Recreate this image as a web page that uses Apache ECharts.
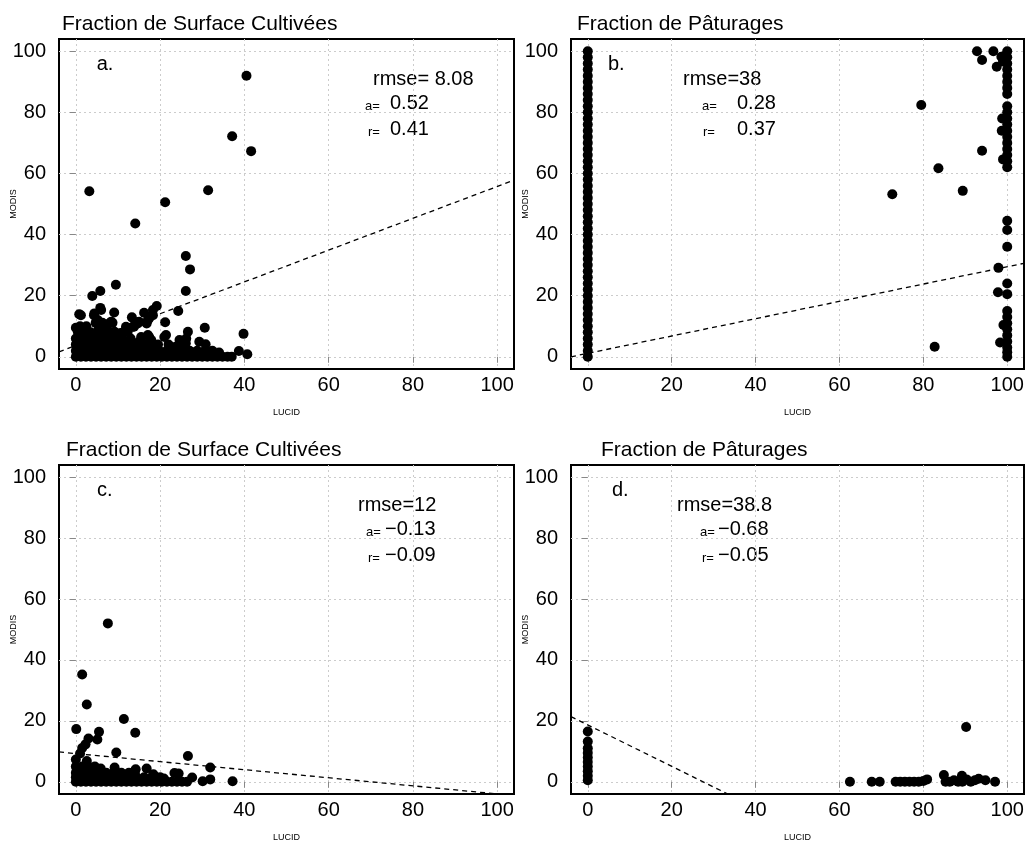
<!DOCTYPE html>
<html>
<head>
<meta charset="utf-8">
<script src="https://cdn.jsdelivr.net/npm/echarts@6/dist/echarts.min.js"></script>
<style>html,body{margin:0;padding:0;background:#fff}#c{width:1027px;height:843px}</style>
</head>
<body>
<div id="c"></div>
<script>
// ---------- data ----------
const tickValues = [0, 20, 40, 60, 80, 100];
const panelTitles = ['Fraction de Surface Cultivées', 'Fraction de Pâturages', 'Fraction de Surface Cultivées', 'Fraction de Pâturages'];
const panelLetters = ['a.', 'b.', 'c.', 'd.'];
const rmseTexts = ['rmse= 8.08', 'rmse=38', 'rmse=12', 'rmse=38.8'];
const slopeTexts = ['0.52', '0.28', '\u22120.13', '\u22120.68'];
const corrTexts = ['0.41', '0.37', '\u22120.09', '\u22120.05'];

// panel a: cultivated, period 1
const pointsA = [
  [40.5,92],[37.1,72.2],[41.6,67.3],[3.2,54.2],[31.4,54.5],[21.2,50.6],[14.1,43.6],[26.1,33],[27.1,28.6],[26.1,21.5],
  [9.5,23.6],[3.9,19.9],[5.8,21.5],[19.2,16.6],[24.3,15],[0.8,13.9],[1.2,13.6],[5.8,16],[9.1,14.5],[13.3,12.9],
  [16.2,14.4],[18.3,15.3],[21.2,11.3],[30.6,9.5],[26.6,8.2],[39.8,7.5],[0,9.5],[8.7,11.1],[4.3,13.6],[4.7,11.1],
  [6.3,11.1],[7.9,10.9],[17.4,12.6],[16.8,10.9],[15,11.5],[13.8,9.8],[11.9,9.8],[10.7,7.7],[9.5,6],[21.4,7.1],
  [29.3,4.9],[30.8,4.1],[38.7,1.9],[40.7,0.8],[34,1.4],[15,4.9],[17.4,6.5],[23.7,3.3],[26.1,4.4],
  [4.4,14.2],[5.2,12],[6,15.3],[6.8,10.4],[8.4,11.5],[9.2,8.2],[10.7,6.5],[12.3,8.2],[13.5,9.8],[14.7,10.9],
  [17.1,12],[18.3,13.6],[15.5,6.5],[17.1,7.1],[17.9,5.5],[21,6.5],[24.6,5.5],[26.2,6],
  [0,0],[1.2,0],[2.4,0],[3.6,0],[4.8,0],[6,0],[7.2,0],[8.4,0],[9.6,0],[10.8,0],[12,0],[13.2,0],[14.4,0],[15.6,0],
  [16.8,0],[18,0],[19.2,0],[20.4,0],[21.6,0],[22.8,0],[24,0],[25.2,0],[26.4,0],[27.6,0],[28.8,0],[30,0],[31.2,0],
  [32.4,0],[33.6,0],[34.8,0],[36,0],[37,0],
  [0,2],[1.8,2],[3.6,2],[5.4,2],[7.2,2],[9,2],[10.8,2],[12.6,2],[14.4,2],[16.2,2],[18,2],[19.8,2],[21.6,2],
  [23.4,2],[25.2,2],[27,2],[28.8,2],[30.6,2],[32.4,2],
  [0,4],[1.5,4],[3,4],[4.5,4],[6,4],[7.5,4],[9,4],[10.5,4],[12,4],[13.5,4],[15,4],[16.5,4],[18,4],[19.5,4],[22,4],[25,4],
  [0,6],[1.5,6],[3,6],[4.5,6],[6,6],[7.5,6],[9,6],[11,6],[13,6],
  [0.5,8],[2,8],[3.5,8],[5,8],[6.5,8],[8,8],[1,10],[2.5,10],[5.5,9.5]
];
const lineA = [[-4,1.6],[104,57.8]];

// panel b: pasture, period 1
const pointsB = [
  [0,0],[0,2],[0,4],[0,6],[0,8],[0,10],[0,12],[0,14],[0,16],[0,18],[0,20],[0,22],[0,24],[0,26],[0,28],[0,30],
  [0,32],[0,34],[0,36],[0,38],[0,40],[0,42],[0,44],[0,46],[0,48],[0,50],[0,52],[0,54],[0,56],[0,58],[0,60],
  [0,62],[0,64],[0,66],[0,68],[0,70],[0,72],[0,74],[0,76],[0,78],[0,80],[0,82],[0,84],[0,86],[0,88],[0,90],
  [0,92],[0,94],[0,96],[0,98],[0,100],
  [100,100],[100,98],[100,96],[100,94],[100,92],[100,90],[100,88],[100,86],
  [100,82],[100,80],[100,78],[100,76],[100,74],[100,72],[100,70],[100,68],[100,66],[100,64],[100,62],
  [100,44.5],[100,41.5],[100,36],[100,24],[100,20.5],[100,15],[100,13],[100,11],[100,9],[100,7],[100,5],
  [100,3],[100,1.5],[100,0],
  [92.8,100],[94,97.1],[96.7,100],[97.5,94.9],[98.6,98.2],[99,96.6],[79.5,82.4],[94,67.4],[83.6,61.7],
  [72.6,53.2],[89.4,54.3],[97.9,29.1],[97.8,21.1],[82.7,3.3],[98.3,4.7],[99.1,10.4],[99,64.6],[98.8,78],[98.7,74]
];
const lineB = [[-4,0],[104,30.6]];

// panel c: cultivated, period 2
const pointsC = [
  [7.6,52],[1.5,35.2],[2.6,25.4],[11.4,20.6],[0.1,17.3],[14.1,16.1],[5.5,16.4],[5.1,13.9],[3,14.2],[2.3,12.3],
  [1.5,11.1],[1,9.3],[9.6,9.6],[26.6,8.5],[0,7.3],[2.6,6.8],[31.9,4.7],[27.6,1.4],[37.2,0.2],[30.1,0.2],
  [31.9,0.8],[9.2,4.7],[5.9,4.4],[14.2,4.1],[16.8,4.4],[18.4,2.5],[23.4,2.9],[24.4,2.7],[20.9,1.1],
  [0,0],[1.2,0],[2.4,0],[3.6,0],[4.8,0],[6,0],[7.2,0],[8.4,0],[9.6,0],[10.8,0],[12,0],[13.2,0],[14.4,0],
  [15.6,0],[16.8,0],[18,0],[19.2,0],[20.4,0],[21.6,0],[22.8,0],[24,0],[25.2,0],[26.4,0],
  [0,1.5],[1.8,1.5],[3.6,1.5],[5.4,1.5],[7.2,1.5],[9,1.5],[10.8,1.5],[12.6,1.5],[14.4,1.5],[16.2,1.5],[18,1.5],[20,1.5],
  [0,3],[1.8,3],[3.6,3],[5.4,3],[7.2,3],[9,3],[10.8,3],[12.6,3],[14,3],
  [0,5],[1.5,5],[3,5],[4.5,5]
];
const lineC = [[-4,9.8],[104,-4.5]];

// panel d: pasture, period 2
const pointsD = [
  [0,16.5],[0,13.2],[0,11],[0,9.5],[0,8],[0,6.5],[0,5],[0,3.5],[0,2],[0,0.5],
  [62.5,0],[67.7,0],[69.6,0],[73.4,0],[74.5,0],[75.6,0],[76.7,0],[77.8,0],[78.9,0],[80,0.3],[80.9,0.8],
  [84.9,2.2],[85.3,0],[86.3,0],[87.3,0.5],[88.3,0],[89.2,2],[89.3,0],[90.3,0.8],[91.3,0],[92.3,0.5],
  [93.2,1],[94.8,0.5],[97.1,0],[90.2,18]
];
const lineD = [[-4,21.4],[104,-52]];

const allPoints = [pointsA, pointsB, pointsC, pointsD];
const allLines = [lineA, lineB, lineC, lineD];

// ---------- layout ----------
const FONT = 'Liberation Sans, Arial, Helvetica, sans-serif';
const grids = [
  {left: 59, top: 39, width: 455, height: 330},
  {left: 571, top: 39, width: 453, height: 330},
  {left: 59, top: 465, width: 455, height: 329},
  {left: 571, top: 465, width: 453, height: 329}
];
const textPos = [
  {title:[62,24.5], letter:[96.7,64.7], rmse:[373,79.7], aL:[365,106.2], aV:[390,103.7], rL:[368,132.2], rV:[390,129.7]},
  {title:[577,24.5], letter:[608,64.7], rmse:[683,79.7], aL:[702,106.2], aV:[737,103.7], rL:[703,132.2], rV:[737,129.7]},
  {title:[66,450.5], letter:[97,490.7], rmse:[358,505.7], aL:[366,532.2], aV:[385,529.7], rL:[368,558.2], rV:[385,555.7]},
  {title:[601,450.5], letter:[612,490.7], rmse:[677,505.7], aL:[700,532.2], aV:[718,529.7], rL:[702,558.2], rV:[718,555.7]}
];

const chart = echarts.init(document.getElementById('c'), null, {renderer: 'canvas'});

const option = {
  animation: false,
  backgroundColor: '#fff',
  grid: grids.map(g => Object.assign({show: true, borderColor: '#000', borderWidth: 2, backgroundColor: 'transparent', containLabel: false}, g)),
  xAxis: grids.map((g, i) => ({
    type: 'value', gridIndex: i, min: -4, max: 104,
    name: 'LUCID', nameLocation: 'middle', nameGap: 39, nameMoveOverlap: false,
    nameTextStyle: {fontSize: 9, color: '#000', fontFamily: FONT},
    axisLine: {show: false},
    axisTick: {show: true, customValues: tickValues, length: 6, lineStyle: {color: '#888', width: 1}},
    axisLabel: {show: true, customValues: tickValues, fontSize: 20, color: '#000', fontFamily: FONT, margin: 6},
    splitLine: {show: true, lineStyle: {color: '#cccccc', width: 1, type: [2, 3]}}
  })),
  yAxis: grids.map((g, i) => ({
    type: 'value', gridIndex: i, min: -4, max: 104,
    name: 'MODIS', nameLocation: 'middle', nameGap: 41, nameMoveOverlap: false,
    nameTextStyle: {fontSize: 9, color: '#000', fontFamily: FONT},
    axisLine: {show: false},
    axisTick: {show: true, customValues: tickValues, length: 6, lineStyle: {color: '#888', width: 1}},
    axisLabel: {show: true, customValues: tickValues, fontSize: 20, color: '#000', fontFamily: FONT, margin: 13},
    splitLine: {show: true, lineStyle: {color: '#cccccc', width: 1, type: [2, 3]}}
  })),
  series: [].concat(
    allLines.map((d, i) => ({
      type: 'line', xAxisIndex: i, yAxisIndex: i, data: d, symbol: 'none', clip: true, z: 3,
      lineStyle: {color: '#000', width: 1.3, type: [5, 4]}
    })),
    allPoints.map((d, i) => ({
      type: 'scatter', xAxisIndex: i, yAxisIndex: i, data: d, symbol: 'circle', symbolSize: 10, z: 2,
      itemStyle: {color: '#000', opacity: 1}
    }))
  ),
  graphic: [].concat(...textPos.map((p, i) => {
    const t = (pos, text, size) => ({
      type: 'text', x: pos[0], y: pos[1], silent: true,
      style: {text: text, fontSize: size, fontFamily: FONT, fill: '#000', textAlign: 'left', textVerticalAlign: 'middle'}
    });
    return [
      t(p.title, panelTitles[i], 21),
      t(p.letter, panelLetters[i], 20),
      t(p.rmse, rmseTexts[i], 20),
      t(p.aL, 'a=', 13),
      t(p.aV, slopeTexts[i], 20),
      t(p.rL, 'r=', 13),
      t(p.rV, corrTexts[i], 20)
    ];
  }))
};
chart.setOption(option);
</script>
</body>
</html>
